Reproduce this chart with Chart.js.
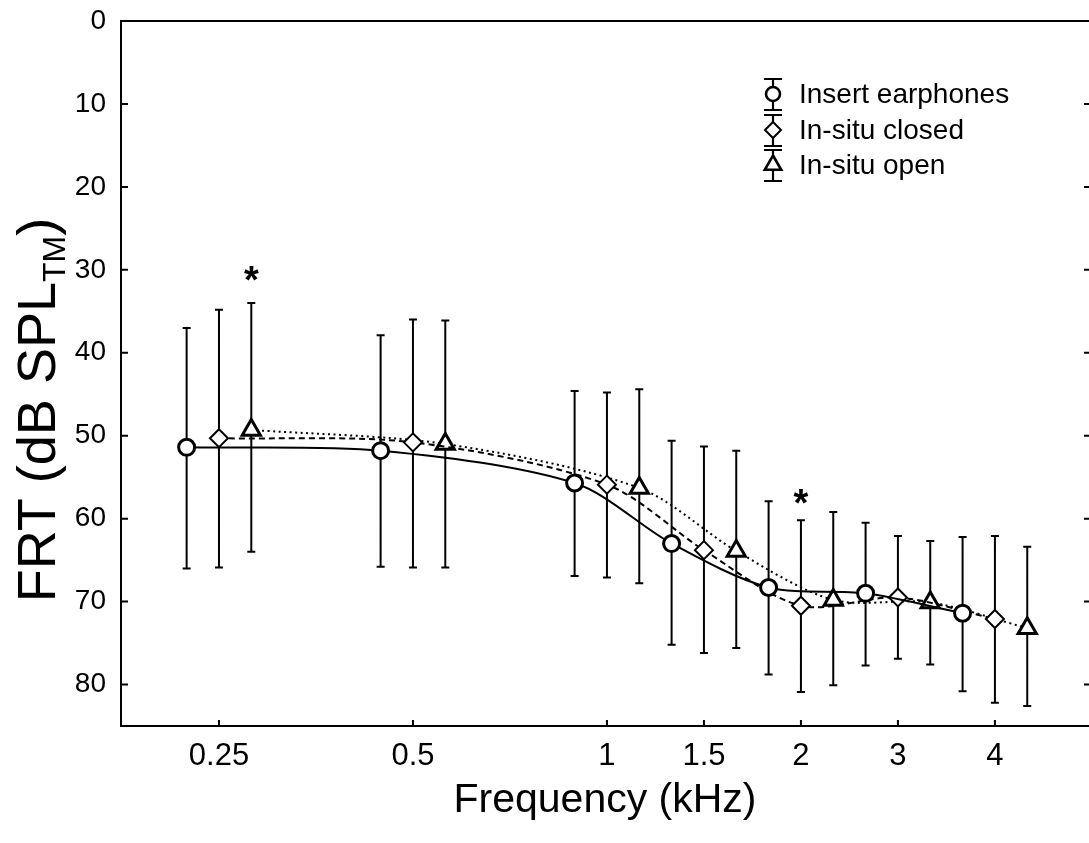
<!DOCTYPE html>
<html>
<head>
<meta charset="utf-8">
<title>FRT by frequency</title>
<script src="https://cdn.jsdelivr.net/npm/chart.js@4.4.1/dist/chart.umd.min.js"></script>
<style>
  html, body { margin: 0; padding: 0; background: #fff; }
  #wrap { width: 1089px; height: 843px; }
</style>
</head>
<body>
<div id="wrap"><canvas id="frt" width="1089" height="843"></canvas></div>
<script>
/* ---- values (dB SPL at the eardrum) ---- */
const freqLabels = ['0.25', '0.5', '1', '1.5', '2', '3', '4'];
const freqPos    = [0, 1, 2, 2.5, 3, 3.5, 4];      // spacing of the frequency axis
const yTicks     = [0, 10, 20, 30, 40, 50, 60, 70, 80];

const seriesNames = ['Insert earphones', 'In-situ closed', 'In-situ open'];

const insertMean = [51.4, 51.8, 55.7, 63.0, 68.3, 69.0, 71.4];
const insertLow  = [37.0, 37.9, 44.6, 50.6, 57.9, 60.5, 62.2];
const insertHigh = [66.0, 65.8, 66.9, 75.2, 78.8, 77.7, 80.8];

const closedMean = [50.3, 50.8, 55.9, 63.8, 70.5, 69.5, 72.1];
const closedLow  = [34.8, 36.0, 44.8, 51.3, 60.2, 62.1, 62.1];
const closedHigh = [65.9, 65.9, 67.1, 76.2, 80.9, 76.9, 82.2];

const openMean = [49.3, 51.0, 56.3, 63.9, 69.8, 70.1, 73.2];
const openLow  = [34.0, 36.1, 44.4, 51.8, 59.2, 62.7, 63.4];
const openHigh = [64.0, 65.9, 67.8, 75.6, 80.1, 77.6, 82.6];

// significance stars: which series / frequency, and the dB level they sit at
const starSeries = [2, 1];
const starIndex  = [0, 4];
const starLevel  = [30.2, 57.0];

/* ---- look ---- */
const FONT = '"Liberation Sans", Arial, sans-serif';
const groupShift = [-1 / 6, 0, 1 / 6];            // side-by-side offset within a frequency
const markers = [
  { style: 'circle',   radius: 8,    border: 3 },
  { style: 'rectRot',  radius: 9,    border: 2 },
  { style: 'triangle', radius: 10.5, border: 3 }
];
const dashes = [[], [6, 4], [2, 3.5]];
const means = [insertMean, closedMean, openMean];
const lows  = [insertLow, closedLow, openLow];
const highs = [insertHigh, closedHigh, openHigh];

const datasets = seriesNames.map((name, s) => ({
  label: name,
  data: freqPos.map((p, i) => ({ x: p + groupShift[s], y: means[s][i] })),
  borderColor: '#000',
  borderWidth: 2,
  borderDash: dashes[s],
  tension: 0.3,
  pointStyle: markers[s].style,
  pointRadius: markers[s].radius,
  pointBorderWidth: markers[s].border,
  pointBackgroundColor: '#fff',
  pointBorderColor: '#000',
  fill: false
}));

/* ---- error bars, drawn under the markers ---- */
const errorBars = {
  id: 'errorBars',
  beforeDatasetsDraw(chart) {
    const { ctx, scales: { y } } = chart;
    ctx.save();
    ctx.strokeStyle = '#000';
    ctx.lineWidth = 2;
    ctx.beginPath();
    seriesNames.forEach((_, s) => {
      const meta = chart.getDatasetMeta(s);
      meta.data.forEach((pt, i) => {
        const top = y.getPixelForValue(lows[s][i]);
        const bot = y.getPixelForValue(highs[s][i]);
        ctx.moveTo(pt.x, top); ctx.lineTo(pt.x, bot);
        ctx.moveTo(pt.x - 4, top); ctx.lineTo(pt.x + 4, top);
        ctx.moveTo(pt.x - 4, bot); ctx.lineTo(pt.x + 4, bot);
      });
    });
    ctx.stroke();
    ctx.restore();
  }
};

/* ---- box top edge and inward tick marks ---- */
const frame = {
  id: 'frame',
  afterDraw(chart) {
    const { ctx, chartArea: a, scales: { x, y } } = chart;
    ctx.save();
    ctx.strokeStyle = '#000';
    ctx.lineWidth = 2;
    ctx.beginPath();
    ctx.moveTo(a.left, a.top); ctx.lineTo(a.right, a.top);
    y.ticks.forEach(t => {
      const py = y.getPixelForValue(t.value);
      ctx.moveTo(a.left, py); ctx.lineTo(a.left + 7, py);
      ctx.moveTo(a.right - 5, py); ctx.lineTo(a.right, py);
    });
    x.ticks.forEach(t => {
      const px = x.getPixelForValue(t.value);
      ctx.moveTo(px, a.bottom); ctx.lineTo(px, a.bottom - 6);
    });
    ctx.stroke();
    ctx.restore();
  }
};

/* ---- asterisks ---- */
const stars = {
  id: 'stars',
  afterDatasetsDraw(chart) {
    const { ctx, scales: { y } } = chart;
    ctx.save();
    ctx.fillStyle = '#000';
    ctx.font = 'bold 38px ' + FONT;
    ctx.textAlign = 'center';
    ctx.textBaseline = 'alphabetic';
    starSeries.forEach((s, k) => {
      const px = chart.getDatasetMeta(s).data[starIndex[k]].x;
      const py = y.getPixelForValue(starLevel[k]);
      ctx.fillText('*', px, py + 22);
    });
    ctx.restore();
  }
};

function marker(ctx, style, x, y, r) {
  ctx.beginPath();
  if (style === 'circle') {
    ctx.arc(x, y, r, 0, Math.PI * 2);
  } else if (style === 'rectRot') {
    ctx.moveTo(x - r, y); ctx.lineTo(x, y - r); ctx.lineTo(x + r, y); ctx.lineTo(x, y + r);
    ctx.closePath();
  } else {
    ctx.moveTo(x, y - r);
    ctx.lineTo(x + r * 0.866, y + r * 0.5);
    ctx.lineTo(x - r * 0.866, y + r * 0.5);
    ctx.closePath();
  }
  ctx.fill();
  ctx.stroke();
}

/* ---- legend in the upper right of the plot ---- */
const legendRows = [95, 131, 166];
const legendBox = {
  id: 'legendBox',
  afterDraw(chart) {
    const ctx = chart.ctx;
    const sx = 773, tx = 799;
    const legR = [7, 8, 9.5];
    ctx.save();
    ctx.strokeStyle = '#000';
    seriesNames.forEach((name, s) => {
      const cy = legendRows[s];
      ctx.lineWidth = 2.2;
      ctx.beginPath();
      ctx.moveTo(sx, cy - 16); ctx.lineTo(sx, cy + 15);
      ctx.moveTo(sx - 9, cy - 16); ctx.lineTo(sx + 9, cy - 16);
      ctx.moveTo(sx - 9, cy + 15); ctx.lineTo(sx + 9, cy + 15);
      ctx.stroke();
      ctx.lineWidth = s === 1 ? 2 : 2.6;
      ctx.fillStyle = '#fff';
      marker(ctx, markers[s].style, sx, cy - 1, legR[s]);
      ctx.fillStyle = '#000';
      ctx.font = '28px ' + FONT;
      ctx.textBaseline = 'middle';
      ctx.fillText(name, tx, cy);
    });
    ctx.restore();
  }
};

/* ---- y axis title with subscript ---- */
const yTitle = {
  id: 'yTitle',
  afterDraw(chart) {
    const ctx = chart.ctx;
    const main = 'FRT (dB SPL', sub = 'TM', close = ')';
    const big = '54px ' + FONT, small = '32px ' + FONT;
    ctx.save();
    ctx.translate(55, 410);
    ctx.rotate(-Math.PI / 2);
    ctx.fillStyle = '#000';
    ctx.textBaseline = 'alphabetic';
    ctx.font = big;
    const w1 = ctx.measureText(main).width, w3 = ctx.measureText(close).width;
    ctx.font = small;
    const w2 = ctx.measureText(sub).width;
    const x0 = -(w1 + w2 + w3) / 2;
    ctx.font = big;  ctx.fillText(main, x0, 0);
    ctx.font = small; ctx.fillText(sub, x0 + w1, 10);
    ctx.font = big;  ctx.fillText(close, x0 + w1 + w2, 0);
    ctx.restore();
  }
};

new Chart(document.getElementById('frt'), {
  type: 'line',
  data: { datasets },
  options: {
    responsive: false,
    animation: false,
    devicePixelRatio: 1,
    layout: { autoPadding: false, padding: { top: 21, right: 0, bottom: 0, left: 0 } },
    plugins: { legend: { display: false }, tooltip: { enabled: false } },
    scales: {
      x: {
        type: 'linear',
        min: -0.505,
        max: 4.485,
        afterBuildTicks: sc => { sc.ticks = freqPos.map(v => ({ value: v })); },
        afterFit: sc => { sc.height = 117; sc.paddingLeft = 0; sc.paddingRight = 0; },
        grid: { display: false, drawTicks: false },
        border: { color: '#000', width: 2 },
        ticks: {
          padding: 12,
          color: '#000',
          font: { family: FONT, size: 31 },
          maxRotation: 0,
          autoSkip: false,
          callback: (v, i) => freqLabels[i]
        },
        title: {
          display: true,
          text: 'Frequency (kHz)',
          color: '#000',
          font: { family: FONT, size: 41 },
          padding: { top: 0, bottom: 18 }
        }
      },
      y: {
        min: 0,
        max: 85,
        reverse: true,
        afterBuildTicks: sc => { sc.ticks = yTicks.map(v => ({ value: v })); },
        afterFit: sc => { sc.width = 121; sc.paddingTop = 0; sc.paddingBottom = 0; },
        grid: { display: false, drawTicks: false },
        border: { color: '#000', width: 2 },
        ticks: {
          padding: 15,
          color: '#000',
          font: { family: FONT, size: 28 }
        }
      }
    }
  },
  plugins: [errorBars, stars, frame, legendBox, yTitle]
});
</script>
</body>
</html>
